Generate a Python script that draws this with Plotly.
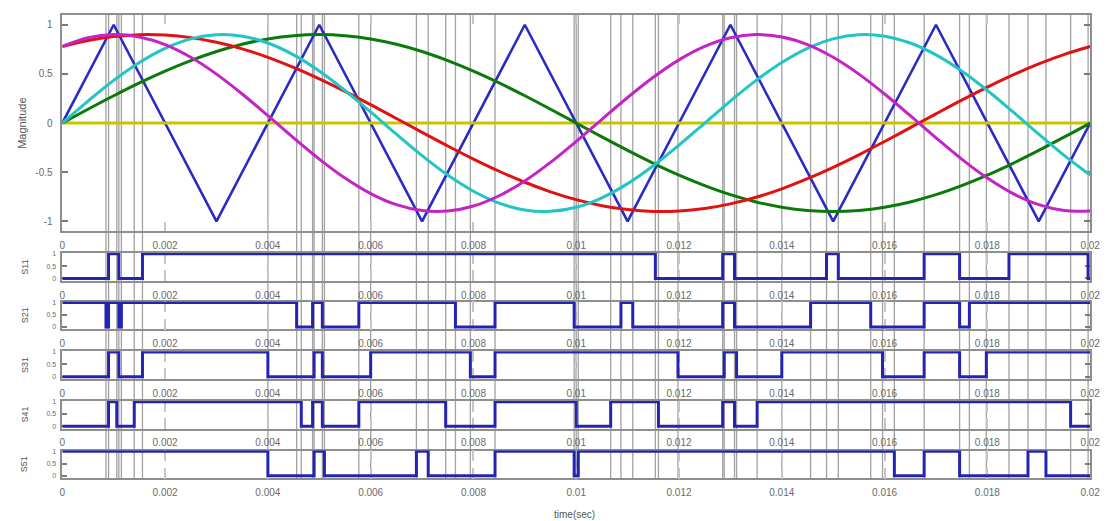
import plotly.graph_objects as go

W, H = 1113, 521

# ---------------------------------------------------------------- data
# sample instants of the reference waves (ms)
t_ms = [0, 0.5, 1, 1.5, 2, 2.5, 3, 3.5, 4, 4.5, 5, 5.5, 6, 6.5, 7, 7.5, 8, 8.5, 9, 9.5,
        10, 10.5, 11, 11.5, 12, 12.5, 13, 13.5, 14, 14.5, 15, 15.5, 16, 16.5, 17, 17.5,
        18, 18.5, 19, 19.5, 20]

# reference (modulating) waves, per unit
red = [0.779, 0.840, 0.880, 0.899, 0.895, 0.869, 0.822, 0.755, 0.669, 0.566, 0.450,
       0.323, 0.187, 0.047, -0.094, -0.233, -0.366, -0.490, -0.602, -0.699, -0.779,
       -0.840, -0.880, -0.899, -0.895, -0.869, -0.822, -0.755, -0.669, -0.566, -0.450,
       -0.323, -0.187, -0.047, 0.094, 0.233, 0.366, 0.490, 0.602, 0.699, 0.779]
green = [0, 0.141, 0.278, 0.409, 0.529, 0.636, 0.728, 0.802, 0.856, 0.889, 0.900,
         0.889, 0.856, 0.802, 0.728, 0.636, 0.529, 0.409, 0.278, 0.141, 0,
         -0.141, -0.278, -0.409, -0.529, -0.636, -0.728, -0.802, -0.856, -0.889, -0.900,
         -0.889, -0.856, -0.802, -0.728, -0.636, -0.529, -0.409, -0.278, -0.141, 0]
cyan = [0, 0.224, 0.434, 0.616, 0.760, 0.856, 0.898, 0.884, 0.814, 0.693, 0.529,
        0.331, 0.113, -0.113, -0.331, -0.529, -0.693, -0.814, -0.884, -0.898, -0.856,
        -0.760, -0.616, -0.434, -0.224, 0, 0.224, 0.434, 0.616, 0.760, 0.856,
        0.898, 0.884, 0.814, 0.693, 0.529, 0.331, 0.113, -0.113, -0.331, -0.529]
magenta = [0.779, 0.867, 0.900, 0.876, 0.798, 0.669, 0.498, 0.296, 0.075, -0.150, -0.366,
           -0.559, -0.717, -0.830, -0.890, -0.895, -0.844, -0.739, -0.588, -0.400, -0.187,
           0.038, 0.260, 0.466, 0.643, 0.779, 0.867, 0.900, 0.876, 0.798, 0.669,
           0.498, 0.296, 0.075, -0.150, -0.366, -0.559, -0.717, -0.830, -0.890, -0.895]
zero_t_ms = [0, 20]
zero_v = [0, 0]

# triangular carrier vertices
carrier_t_ms = [0, 1, 3, 5, 7, 9, 11, 13, 15, 17, 19, 20]
carrier_v = [0, 1, -1, 1, -1, 1, -1, 1, -1, 1, -1, 0]

# gate signals: initial state and switching instants (ms)
switch_names = ["S11", "S21", "S31", "S41", "S51"]
switch_start = [0, 1, 0, 0, 1]
switch_edges_ms = [
    [0.90, 1.10, 1.56, 11.54, 12.85, 13.08, 14.87, 15.10, 16.77, 17.46, 18.42, 19.96],
    [0.85, 0.90, 1.10, 1.15, 4.56, 4.87, 5.06, 5.77, 7.65, 8.42, 9.96, 10.87, 11.10,
     12.85, 13.08, 14.56, 15.73, 16.77, 17.46, 17.65],
    [0.90, 1.10, 1.56, 4.00, 4.90, 5.06, 6.00, 7.94, 8.42, 11.98, 12.88, 13.12, 14.00,
     15.96, 16.77, 17.46, 17.98],
    [0.90, 1.06, 1.40, 4.65, 4.87, 5.06, 5.77, 7.46, 8.42, 10.00, 10.67, 11.60, 12.85,
     13.08, 13.52, 19.62],
    [4.00, 4.90, 5.10, 6.89, 7.12, 8.42, 9.96, 10.04, 16.19, 16.77, 17.46, 18.79, 19.14],
]

x_tickvals = [0, 0.002, 0.004, 0.006, 0.008, 0.01, 0.012, 0.014, 0.016, 0.018, 0.02]
x_ticktext = ["0", "0.002", "0.004", "0.006", "0.008", "0.01", "0.012", "0.014",
              "0.016", "0.018", "0.02"]
mag_tickvals = [-1, -0.5, 0, 0.5, 1]
mag_ticktext = ["-1", "-0.5", "0", "0.5", "1"]
sw_tickvals = [0, 0.5, 1]
sw_ticktext = ["0", "0.5", "1"]

# ---------------------------------------------------------------- styling
FONT = "Liberation Sans, Arial, sans-serif"
TXT = "#6a6a6a"
BLUE = "#2424b4"
AXIS = "#8e8e8e"

# vertical extent of each panel in pixels (top, bottom)
panel_px = [(12, 230), (252, 280), (301, 329), (351, 379), (401, 429), (451, 479)]
x_dom = [60 / W, 1100 / W]


def ydom(p):
    return [1 - p[1] / H, 1 - p[0] / H]


def sec(vals):
    return [v / 1000 for v in vals]


fig = go.Figure()

# top panel: carrier and references
fig.add_trace(go.Scatter(x=sec(carrier_t_ms), y=carrier_v, mode="lines",
                         line=dict(color="#2b2bc4", width=2.6), xaxis="x", yaxis="y"))
fig.add_trace(go.Scatter(x=sec(zero_t_ms), y=zero_v, mode="lines",
                         line=dict(color="#c9c400", width=3), xaxis="x", yaxis="y"))
for vals, col in [(green, "#0b7a0b"), (red, "#e01212"), (cyan, "#22c4c4"),
                  (magenta, "#c424c4")]:
    fig.add_trace(go.Scatter(x=sec(t_ms), y=vals, mode="lines",
                             line=dict(color=col, width=3, shape="spline", smoothing=1),
                             xaxis="x", yaxis="y"))

# gate signal panels
for i, (start, edges) in enumerate(zip(switch_start, switch_edges_ms)):
    xs = [0] + edges + [20]
    ys = []
    state = start
    ys.append(state)
    for _ in edges:
        state = 1 - state
        ys.append(state)
    ys.append(state)
    n = i + 2
    fig.add_trace(go.Scatter(x=sec(xs), y=ys, mode="lines",
                             line=dict(color=BLUE, width=3, shape="hv"),
                             xaxis=f"x{n}", yaxis=f"y{n}"))

# vertical markers at every switching instant
all_edges = sorted(set(e for edges in switch_edges_ms for e in edges))
shapes = []
for e in all_edges:
    shapes.append(dict(type="line", xref="x", yref="paper", x0=e / 1000, x1=e / 1000,
                       y0=1 - 479 / H, y1=1 - 12 / H, layer="below",
                       line=dict(color="rgba(70,70,70,0.5)", width=1.3)))

layout = dict(
    width=W, height=H, margin=dict(l=0, r=0, t=0, b=0),
    paper_bgcolor="white", plot_bgcolor="white", showlegend=False,
    font=dict(family=FONT, size=10, color=TXT), shapes=shapes,
)

for k, p in enumerate(panel_px):
    n = "" if k == 0 else str(k + 1)
    layout[f"xaxis{n}"] = dict(
        domain=x_dom, anchor=f"y{n}", range=[0, 0.02], layer="below traces",
        tickvals=x_tickvals, ticktext=x_ticktext, ticks="inside",
        ticklen=9 if k == 0 else 11, tickwidth=2, tickcolor="#c6c6c6",
        showline=True, linecolor=AXIS, linewidth=1.5, mirror="ticks",
        showgrid=False, zeroline=False, ticklabelstandoff=4,
        tickfont=dict(size=10, color=TXT),
    )
    if k == 0:
        layout["yaxis"] = dict(
            domain=ydom(p), anchor="x", range=[-1.1, 1.1], layer="below traces",
            tickvals=mag_tickvals, ticktext=mag_ticktext, ticks="inside",
            ticklen=6, tickwidth=1.5, tickcolor="#7a7a7a",
            showline=True, linecolor=AXIS, linewidth=1.5, mirror="ticks",
            showgrid=False, zeroline=False, ticklabelstandoff=6,
            tickfont=dict(size=10, color=TXT),
        )
    else:
        layout[f"yaxis{n}"] = dict(
            domain=ydom(p), anchor=f"x{n}", range=[-0.1, 1.03], layer="below traces",
            tickvals=sw_tickvals, ticktext=sw_ticktext, ticks="inside",
            ticklen=5, tickwidth=1.5, tickcolor="#7a7a7a",
            showline=True, linecolor=AXIS, linewidth=1.5, mirror="ticks",
            showgrid=False, zeroline=False, ticklabelstandoff=3,
            tickfont=dict(size=7, color=TXT),
        )

annotations = [
    dict(text="Magnitude", x=19 / W, y=1 - 121 / H, xref="paper", yref="paper",
         xanchor="center", yanchor="middle",
         showarrow=False, textangle=-90, font=dict(size=11, color="#555555")),
    dict(text="time(sec)", x=578 / W, y=1 - 515 / H, xref="paper", yref="paper",
         xanchor="center", yanchor="middle",
         showarrow=False, font=dict(size=10, color="#555555")),
]
for name, p in zip(switch_names, panel_px[1:]):
    annotations.append(dict(text=name, x=22 / W, y=1 - (p[0] + p[1]) / 2 / H,
                            xref="paper", yref="paper", xanchor="center",
                            yanchor="middle", showarrow=False, textangle=-90,
                            font=dict(size=9, color="#555555")))
layout["annotations"] = annotations

fig.update_layout(**layout)
fig.write_html("out.html")
